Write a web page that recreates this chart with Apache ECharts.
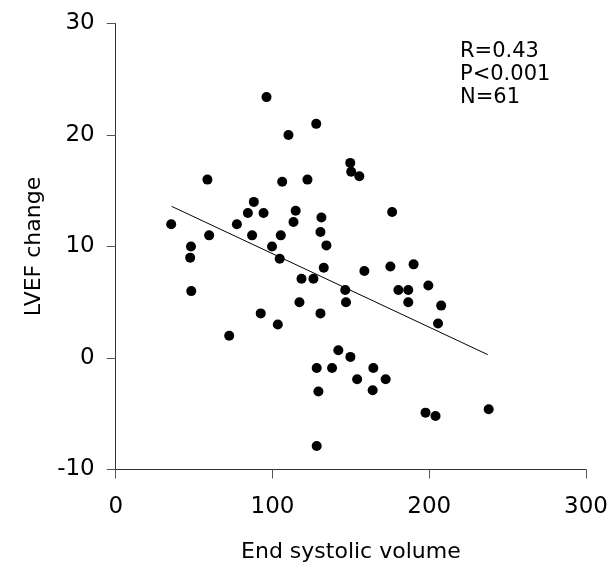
<!DOCTYPE html>
<html>
<head>
<meta charset="utf-8">
<style>html,body{margin:0;padding:0;background:#fff}#c{width:611px;height:580px}</style>
<script src="https://cdn.jsdelivr.net/npm/echarts@6/dist/echarts.min.js"></script>
</head>
<body>
<div id="c"></div>
<script>
var esv = [96.2,127.9,110.2,149.6,150.2,155.4,58.5,106.2,122.3,88.1,84.3,94.3,114.8,176.3,35.4,77.3,113.4,131.2,59.6,87.0,105.3,130.6,48.0,99.7,134.4,47.5,104.6,132.7,158.6,175.2,190.0,118.5,126.1,48.2,146.4,146.9,117.2,180.3,186.6,186.6,199.4,207.6,205.6,92.5,130.6,103.4,72.4,142.0,149.7,128.2,138.0,164.3,154.0,172.2,129.3,163.9,197.6,204.0,237.9,128.2];
var lvef = [23.4,21.0,20.0,17.5,16.7,16.3,16.0,15.8,16.0,14.0,13.0,13.0,13.2,13.1,12.0,12.0,12.2,12.6,11.0,11.0,11.0,11.3,10.0,10.0,10.1,9.0,8.9,8.1,7.8,8.2,8.4,7.1,7.1,6.0,6.1,5.0,5.0,6.1,6.1,5.0,6.5,4.7,3.1,4.0,4.0,3.0,2.0,0.7,0.1,-0.9,-0.9,-0.9,-1.9,-1.9,-3.0,-2.9,-4.9,-5.2,-4.6,-7.9];
var fitX = [35.7, 237.3];
var fitY = [13.6, 0.3];
var statsText = ['R=0.43', 'P<0.001', 'N=61'];
var xName = 'End systolic volume';
var yName = 'LVEF change';

var pts = esv.map(function (x, i) { return [x, lvef[i]]; });
var fit = fitX.map(function (x, i) { return [x, fitY[i]]; });
var font = 'DejaVu Sans, Liberation Sans, Arial, sans-serif';

var chart = echarts.init(document.getElementById('c'));
chart.setOption({
  animation: false,
  backgroundColor: '#fff',
  title: {
    text: statsText.join('\n'),
    left: 455, top: 35,
    textStyle: { fontFamily: font, fontSize: 21, fontWeight: 'normal', color: '#000', lineHeight: 23 }
  },
  grid: { left: 115.7, right: 24.3, top: 23.5, bottom: 110.5 },
  xAxis: {
    type: 'value', min: 0, max: 300, interval: 100,
    name: xName, nameLocation: 'middle', nameGap: 72,
    nameTextStyle: { fontFamily: font, fontSize: 22, color: '#000' },
    axisLine: { onZero: false, lineStyle: { color: '#333', width: 1 } },
    axisTick: { show: true, length: 9, lineStyle: { color: '#555' } },
    axisLabel: { fontFamily: font, fontSize: 23, color: '#000', margin: 26 },
    splitLine: { show: false }
  },
  yAxis: {
    type: 'value', min: -10, max: 30, interval: 10,
    name: yName, nameLocation: 'middle', nameGap: 70,
    nameTextStyle: { fontFamily: font, fontSize: 22, color: '#000' },
    axisLine: { onZero: false, lineStyle: { color: '#333', width: 1 } },
    axisTick: { show: true, length: 9, lineStyle: { color: '#555' } },
    axisLabel: { fontFamily: font, fontSize: 23, color: '#000', margin: 21 },
    splitLine: { show: false }
  },
  series: [
    {
      type: 'scatter', data: pts, symbol: 'circle', symbolSize: 10,
      itemStyle: { color: '#000', opacity: 1 }
    },
    {
      type: 'line', data: fit, symbol: 'none',
      lineStyle: { color: '#000', width: 1 }
    }
  ]
});
</script>
</body>
</html>
